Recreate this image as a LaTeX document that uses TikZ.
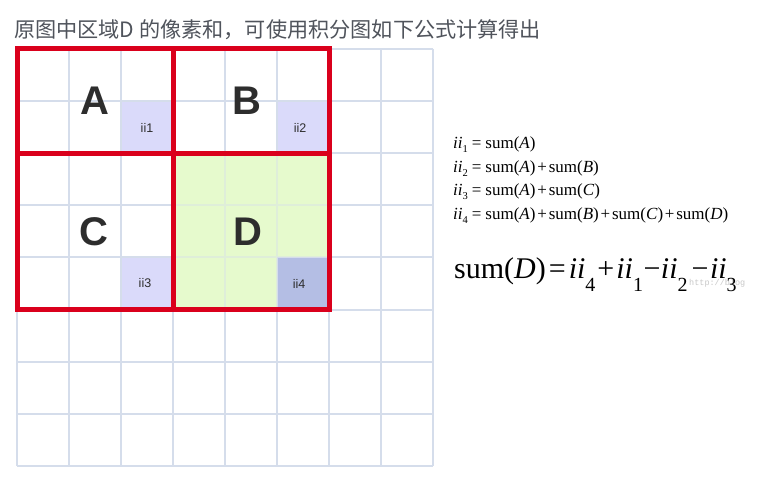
\documentclass[tikz,border=0pt]{standalone}
\usepackage{fontspec}
\setmainfont{Liberation Serif}
\newfontfamily\cjk{Noto Sans CJK SC}
\newfontfamily\arialf{Liberation Sans}
\newfontfamily\monof{Liberation Mono}
% small subscript for the formula list
\newcommand{\ssub}[1]{\raisebox{-4pt}{\fontsize{10.5}{11}\selectfont #1}}
% large subscript for the main formula
\newcommand{\bsub}[1]{\raisebox{-13.5pt}{\fontsize{20}{20}\selectfont #1}}
\definecolor{gridc}{RGB}{213,221,235}
\definecolor{redc}{RGB}{218,0,28}
\definecolor{greenc}{RGB}{230,250,205}
\definecolor{lavc}{RGB}{218,218,250}
\definecolor{darklav}{RGB}{180,190,228}
\definecolor{titlec}{RGB}{80,84,92}
\definecolor{letterc}{RGB}{45,45,45}
\definecolor{wmc}{RGB}{200,200,200}
\tikzset{
  region/.style={draw=redc, line width=5pt},
  bigletter/.style={font=\arialf\bfseries\fontsize{40}{40}\selectfont, text=letterc, inner sep=0pt},
  iilabel/.style={font=\arialf\fontsize{12.5}{13}\selectfont, text=letterc, inner sep=0pt},
  smallformula/.style={font=\fontsize{17}{18}\selectfont, anchor=base west, inner sep=0pt},
  bigformula/.style={font=\fontsize{30}{32}\selectfont, anchor=base west, inner sep=0pt},
}
\newcommand{\eqs}{\kern4pt=\kern4pt}
\newcommand{\pls}{\kern1.8pt+\kern1.8pt}
\begin{document}
\begin{tikzpicture}[x=1pt,y=-1pt]
\useasboundingbox[fill=white] (0,0) rectangle (759,476);
% fills
\fill[greenc] (173,153.2) rectangle (329,309.5);
\fill[lavc] (121,101.1) rectangle (173,153.2);
\fill[lavc] (277,101.1) rectangle (329,153.2);
\fill[lavc] (121,257.4) rectangle (173,309.5);
\fill[darklav] (277,257.4) rectangle (329,309.5);
% grid
\foreach \i in {0,...,8} {
  \draw[gridc, line width=2pt] (17+52*\i,49) -- (17+52*\i,465.8);
  \draw[gridc, line width=2pt] (17,49+52.1*\i) -- (433,49+52.1*\i);
}
% soften grid inside coloured cells
\fill[greenc, opacity=0.6] (173,153.2) rectangle (329,257.4);
\fill[greenc, opacity=0.6] (173,257.4) rectangle (277,309.5);
% red regions
\draw[region] (17,49) rectangle (173,153.2);
\draw[region] (173,49) rectangle (329,153.2);
\draw[region] (17,153.2) rectangle (173,309.5);
\draw[region] (173,153.2) rectangle (329,309.5);
% letters
\node[bigletter] (A) at (95,101) {A};
\node[bigletter] (B) at (247,101) {B};
\node[bigletter] (C) at (94,232) {C};
\node[bigletter] (D) at (247.5,232) {D};
% ii labels
\node[iilabel] (ii1) at (147,127.5) {ii1};
\node[iilabel] (ii2) at (300,127.5) {ii2};
\node[iilabel] (ii3) at (145,283.5) {ii3};
\node[iilabel] (ii4) at (299,283.5) {ii4};
% title
\node[anchor=west, inner sep=0pt, text=titlec, font=\cjk\fontsize{21.15}{23}\selectfont] (title) at (14,30) {原图中区域D 的像素和，可使用积分图如下公式计算得出};
% formulas
\node[smallformula] (f1) at (453,148) {\textit{ii}\ssub{1}\eqs sum(\textit{A})};
\node[smallformula] (f2) at (453,172) {\textit{ii}\ssub{2}\eqs sum(\textit{A})\pls sum(\textit{B})};
\node[smallformula] (f3) at (453,195.5) {\textit{ii}\ssub{3}\eqs sum(\textit{A})\pls sum(\textit{C})};
\node[smallformula] (f4) at (453,219) {\textit{ii}\ssub{4}\eqs sum(\textit{A})\pls sum(\textit{B})\pls sum(\textit{C})\pls sum(\textit{D})};
\node[anchor=base west, inner sep=0pt, text=wmc, font=\monof\fontsize{8.5}{10}\selectfont] (wm) at (689,285) {http://blog};
\node[bigformula] (f5) at (454,278) {sum(\textit{D})\kern3pt=\kern3pt\textit{ii}\bsub{4}\kern2pt+\kern2pt\textit{ii}\bsub{1}\kern0.5pt−\kern0.5pt\textit{ii}\bsub{2}\kern4pt−\kern1.5pt\textit{ii}\bsub{3}};
\end{tikzpicture}
\end{document}
